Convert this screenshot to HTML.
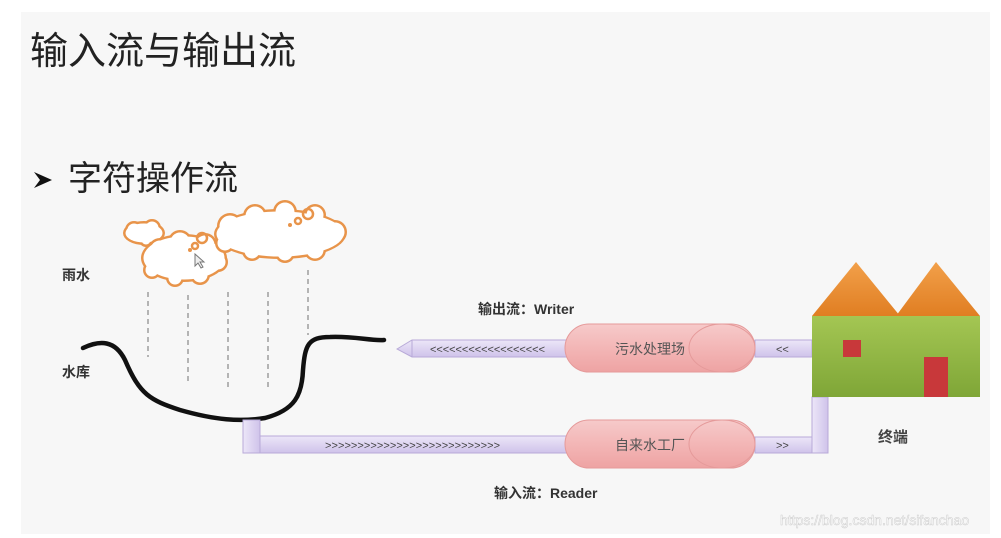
<!DOCTYPE html>
<html><head><meta charset="utf-8"><style>
html,body{margin:0;padding:0;background:#fff;}
svg{display:block;}
text{font-family:"Liberation Sans","Noto Sans CJK SC",sans-serif;}
</style></head><body>
<svg width="1001" height="538" viewBox="0 0 1001 538" xmlns="http://www.w3.org/2000/svg">
<defs>
<linearGradient id="pipe" x1="0" y1="0" x2="0" y2="1"><stop offset="0" stop-color="#ece6f8"/><stop offset="1" stop-color="#cfc3ea"/></linearGradient>
<linearGradient id="pipev" x1="0" y1="0" x2="1" y2="0"><stop offset="0" stop-color="#ece6f8"/><stop offset="1" stop-color="#cfc3ea"/></linearGradient>
<linearGradient id="cyl" x1="0" y1="0" x2="0" y2="1"><stop offset="0" stop-color="#f6caca"/><stop offset="0.5" stop-color="#f3b6b6"/><stop offset="1" stop-color="#eea3a3"/></linearGradient>
<linearGradient id="roof" x1="0" y1="0" x2="0" y2="1"><stop offset="0" stop-color="#f2a04a"/><stop offset="1" stop-color="#e07e22"/></linearGradient>
<linearGradient id="wall" x1="0" y1="0" x2="0" y2="1"><stop offset="0" stop-color="#a4c653"/><stop offset="1" stop-color="#7fa637"/></linearGradient>
</defs>
<rect x="21" y="12" width="969" height="522" fill="#f7f7f7"/>
<text x="30" y="64" font-size="38" fill="#222">输入流与输出流</text>
<path d="M34 172 L52 180 L34 188 L40 180 Z" fill="#111"/>
<text x="68" y="190" font-size="34" fill="#222">字符操作流</text>
<text x="62" y="280" font-size="14" font-weight="bold" fill="#333">雨水</text>
<text x="62" y="377" font-size="14" font-weight="bold" fill="#333">水库</text>
<!-- clouds -->
<g fill="#e8944a">
<ellipse cx="144" cy="233" rx="21" ry="12"/><circle cx="134" cy="230" r="9"/><circle cx="152" cy="228" r="9"/><circle cx="146" cy="240" r="7"/>
</g>
<g fill="#fff">
<ellipse cx="144" cy="233" rx="18.5" ry="9.5"/><circle cx="134" cy="230" r="6.5"/><circle cx="152" cy="228" r="6.5"/><circle cx="146" cy="240" r="4.5"/>
</g>
<g fill="#e8944a">
<ellipse cx="184" cy="258" rx="43" ry="24"/><circle cx="160" cy="250" r="12"/><circle cx="180" cy="242" r="12"/><circle cx="205" cy="245" r="12"/><circle cx="218" cy="262" r="10"/><circle cx="200" cy="275" r="10"/><circle cx="175" cy="278" r="9"/><circle cx="152" cy="270" r="9"/>
</g>
<g fill="#fff">
<ellipse cx="184" cy="258" rx="40.5" ry="21.5"/><circle cx="160" cy="250" r="9.5"/><circle cx="180" cy="242" r="9.5"/><circle cx="205" cy="245" r="9.5"/><circle cx="218" cy="262" r="7.5"/><circle cx="200" cy="275" r="7.5"/><circle cx="175" cy="278" r="6.5"/><circle cx="152" cy="270" r="6.5"/>
</g>
<g fill="#e8944a">
<ellipse cx="280" cy="234" rx="66" ry="25"/><circle cx="230" cy="226" r="13"/><circle cx="255" cy="216" r="12"/><circle cx="285" cy="212" r="12"/><circle cx="315" cy="215" r="11"/><circle cx="335" cy="232" r="12"/><circle cx="315" cy="250" r="11"/><circle cx="285" cy="253" r="10"/><circle cx="252" cy="251" r="10"/><circle cx="225" cy="243" r="10"/>
</g>
<g fill="#fff">
<ellipse cx="280" cy="234" rx="63.5" ry="22.5"/><circle cx="230" cy="226" r="10.5"/><circle cx="255" cy="216" r="9.5"/><circle cx="285" cy="212" r="9.5"/><circle cx="315" cy="215" r="8.5"/><circle cx="335" cy="232" r="9.5"/><circle cx="315" cy="250" r="8.5"/><circle cx="285" cy="253" r="7.5"/><circle cx="252" cy="251" r="7.5"/><circle cx="225" cy="243" r="7.5"/>
</g>
<g fill="none" stroke="#e8944a" stroke-width="2.5">
<circle cx="308" cy="214" r="5"/><circle cx="298" cy="221" r="3"/><circle cx="202" cy="238" r="5"/><circle cx="195" cy="246" r="3"/>
</g>
<circle cx="290" cy="225" r="2" fill="#e8944a"/><circle cx="190" cy="250" r="2" fill="#e8944a"/>
<path d="M195 254 l0 12 l3 -3 l3 5 l2 -1 l-3 -5 l4 0 z" fill="#eee" stroke="#777" stroke-width="1"/>
<!-- rain -->
<g stroke="#888" stroke-width="1.2" stroke-dasharray="5,4">
<line x1="148" y1="292" x2="148" y2="357"/><line x1="188" y1="295" x2="188" y2="382"/><line x1="228" y1="292" x2="228" y2="390"/><line x1="268" y1="292" x2="268" y2="390"/><line x1="308" y1="270" x2="308" y2="335"/>
</g>
<!-- reservoir -->
<path d="M83 348 C100 340 115 340 125 360 C140 395 150 400 180 410 C215 420 240 422 265 418 C295 410 302 395 303 370 C305 345 308 337 330 337 C355 336 370 341 384 340" fill="none" stroke="#111" stroke-width="4.5" stroke-linecap="round"/>
<!-- lower pipe -->
<rect x="243" y="420" width="17" height="33" fill="url(#pipev)" stroke="#b8aad8"/>
<rect x="260" y="436" width="310" height="17" fill="url(#pipe)" stroke="#b8aad8"/>
<text x="325" y="449" font-size="11" fill="#444" textLength="175">&gt;&gt;&gt;&gt;&gt;&gt;&gt;&gt;&gt;&gt;&gt;&gt;&gt;&gt;&gt;&gt;&gt;&gt;&gt;&gt;&gt;&gt;&gt;&gt;&gt;&gt;&gt;</text>
<rect x="755" y="437" width="57" height="16" fill="url(#pipe)" stroke="#b8aad8"/>
<text x="776" y="449" font-size="11" fill="#444">&gt;&gt;</text>
<rect x="812" y="397" width="16" height="56" fill="url(#pipev)" stroke="#b8aad8"/>
<rect x="565" y="420" width="190" height="48" rx="24" fill="url(#cyl)" stroke="#e59a9a"/>
<ellipse cx="722" cy="444" rx="33" ry="24" fill="none" stroke="#e59a9a"/>
<text x="650" y="450" font-size="14" fill="#555" text-anchor="middle">自来水工厂</text>
<!-- upper pipe -->
<path d="M397 349 L412 340 L570 340 L570 357 L412 357 Z" fill="url(#pipe)" stroke="#b8aad8"/>
<line x1="412" y1="340" x2="412" y2="357" stroke="#b8aad8"/>
<text x="430" y="353" font-size="11" fill="#444" textLength="115">&lt;&lt;&lt;&lt;&lt;&lt;&lt;&lt;&lt;&lt;&lt;&lt;&lt;&lt;&lt;&lt;&lt;&lt;</text>
<rect x="755" y="340" width="57" height="17" fill="url(#pipe)" stroke="#b8aad8"/>
<text x="776" y="353" font-size="11" fill="#444">&lt;&lt;</text>
<rect x="565" y="324" width="190" height="48" rx="24" fill="url(#cyl)" stroke="#e59a9a"/>
<ellipse cx="722" cy="348" rx="33" ry="24" fill="none" stroke="#e59a9a"/>
<text x="650" y="354" font-size="14" fill="#555" text-anchor="middle">污水处理场</text>
<!-- house -->
<polygon points="812,316 856,262 900,316" fill="url(#roof)"/>
<polygon points="896,316 936,262 980,316" fill="url(#roof)"/>
<rect x="812" y="316" width="168" height="81" fill="url(#wall)"/>
<rect x="843" y="340" width="18" height="17" fill="#c8383a"/>
<rect x="924" y="357" width="24" height="40" fill="#c8383a"/>
<text x="878" y="442" font-size="15" font-weight="bold" fill="#444">终端</text>
<text x="478" y="314" font-size="14" font-weight="bold" fill="#333">输出流：Writer</text>
<text x="494" y="498" font-size="14" font-weight="bold" fill="#333">输入流：Reader</text>
<text x="780" y="525" font-size="14" fill="#fff" stroke="#ccc" stroke-width="0.5">https://blog.csdn.net/sifanchao</text>
</svg>
</body></html>
